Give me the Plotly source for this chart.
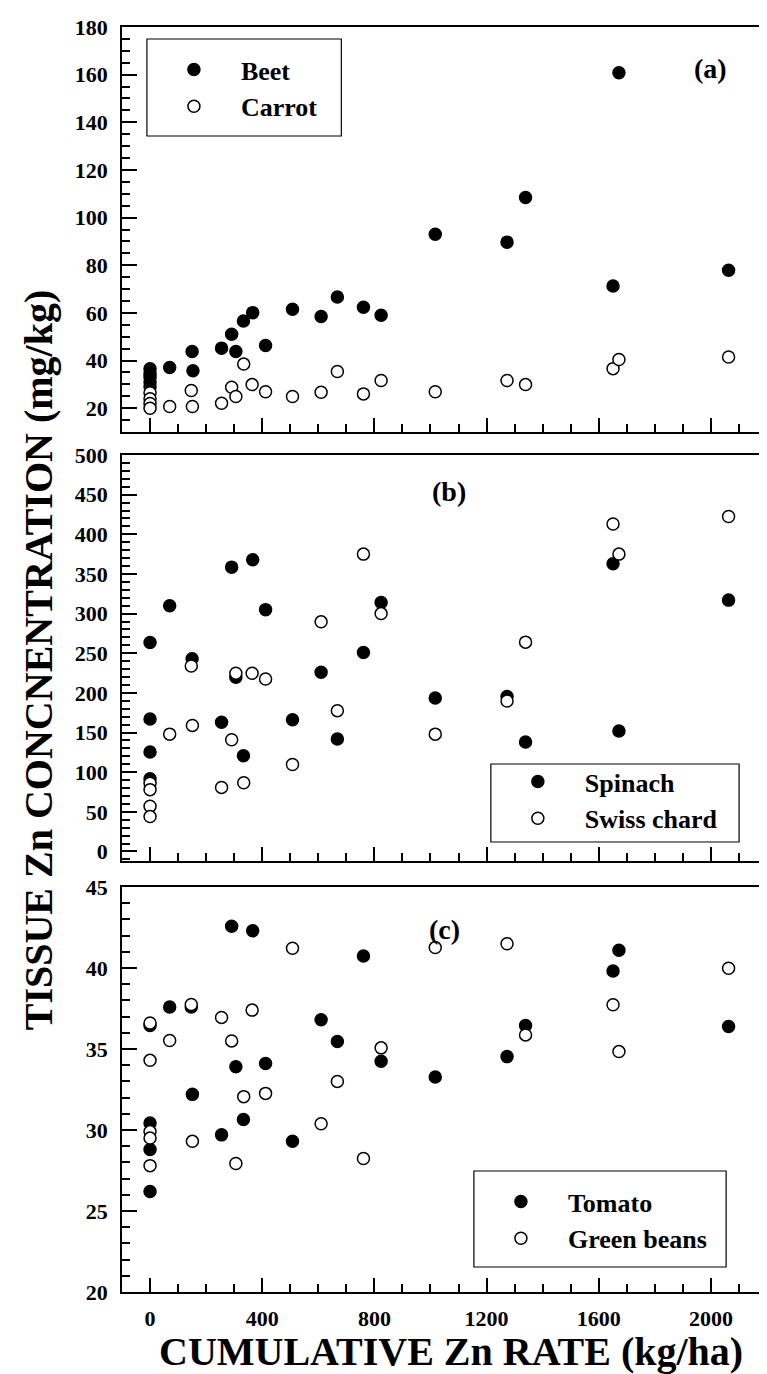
import plotly.graph_objects as go

# ---------------- data ----------------
beet_x = [0, 0, 0, 0, 0, 70, 150, 153, 255, 291, 306, 333, 366, 412, 508, 610, 668, 761, 824, 1017, 1273, 1339, 1651, 1672, 2063]
beet_y = [36.5, 34.5, 33, 31, 29, 37.1, 43.8, 35.7, 45.2, 51.0, 43.8, 56.6, 60.1, 46.3, 61.5, 58.5, 66.7, 62.4, 59.0, 93.0, 89.7, 108.4, 71.3, 160.8, 77.9]

carrot_x = [0, 0, 0, 0, 70, 147, 151, 255, 291, 306, 334, 364, 412, 508, 610, 668, 761, 824, 1017, 1273, 1339, 1651, 1672, 2063]
carrot_y = [26.5, 24, 22, 20, 20.7, 27.4, 20.7, 22.1, 28.8, 24.9, 38.5, 29.9, 26.9, 24.9, 26.7, 35.4, 26.0, 31.6, 26.9, 31.6, 29.9, 36.6, 40.4, 41.5]

spinach_x = [0, 0, 0, 0, 70, 150, 255, 291, 306, 333, 366, 412, 508, 610, 668, 761, 824, 1017, 1273, 1339, 1651, 1672, 2063]
spinach_y = [263.5, 167, 125.4, 91.8, 310, 243, 163, 358.6, 219.7, 120.8, 368, 305, 166, 226, 141.8, 251, 314, 193.6, 195.3, 138, 362.8, 152, 317]

chard_x = [0, 0, 0, 0, 70, 147, 151, 255, 291, 306, 334, 364, 412, 508, 610, 668, 761, 824, 1017, 1273, 1339, 1651, 1672, 2063]
chard_y = [86, 78, 57, 44, 148, 234, 159, 80.8, 141, 224.7, 86.7, 224.7, 217.6, 109.8, 289.6, 177.6, 375, 300, 148, 189.8, 264, 413, 375, 422.5]

tomato_x = [0, 0, 0, 0, 70, 147, 151, 255, 291, 306, 333, 366, 412, 508, 610, 668, 761, 824, 1017, 1273, 1339, 1651, 1672, 2063]
tomato_y = [36.45, 30.43, 28.8, 26.2, 37.59, 37.59, 32.2, 29.7, 42.58, 33.9, 30.65, 42.3, 34.1, 29.3, 36.8, 35.46, 40.74, 34.24, 33.27, 34.53, 36.45, 39.81, 41.1, 36.39]

beans_x = [0, 0, 0, 0, 0, 70, 147, 151, 255, 291, 306, 334, 364, 412, 508, 610, 668, 761, 824, 1017, 1273, 1339, 1651, 1672, 2063]
beans_y = [36.6, 34.3, 29.9, 29.5, 27.8, 35.52, 37.75, 29.3, 36.95, 35.5, 27.93, 32.06, 37.4, 32.26, 41.22, 30.39, 33.0, 28.24, 35.07, 41.26, 41.5, 35.87, 37.73, 34.84, 39.98]

x_ticks = [0, 400, 800, 1200, 1600, 2000]
panel_labels = ["(a)", "(b)", "(c)"]

# ---------------- layout geometry (pixels) ----------------
W, H = 767, 1374
L, R, T, B = 114, 6, 19, 90
PW = W - L - R
PH = H - T - B


def px_x(px):
    return (px - L) / PW


def px_y(py):
    return (H - B - py) / PH


SERIF = "Liberation Serif, Times New Roman, Times, serif"
BLACK = "#000000"
MS = 12

fig = go.Figure()


def add(x, y, name, filled, xa, ya, legend, group):
    fig.add_trace(go.Scatter(
        x=x, y=y, mode="markers", name=name,
        xaxis=xa, yaxis=ya, legend=legend, legendgroup=group,
        marker=dict(size=MS, symbol="circle",
                    color=BLACK if filled else "white",
                    line=dict(color=BLACK, width=1.5)),
    ))


add(beet_x, beet_y, "Beet", True, "x3", "y3", "legend", "g1")
add(carrot_x, carrot_y, "Carrot", False, "x3", "y3", "legend", "g2")
add(spinach_x, spinach_y, "Spinach", True, "x2", "y2", "legend2", "g3")
add(chard_x, chard_y, "Swiss chard", False, "x2", "y2", "legend2", "g4")
add(tomato_x, tomato_y, "Tomato", True, "x", "y", "legend3", "g5")
add(beans_x, beans_y, "Green beans", False, "x", "y", "legend3", "g6")

tickfont = dict(family=SERIF, size=22, color=BLACK, weight="bold")


def xaxis(show_labels, anchor):
    d = dict(range=[-100, 2200], tickmode="array", tickvals=x_ticks,
             ticktext=[str(v) for v in x_ticks],
             showticklabels=show_labels, ticks="inside", ticklen=14, tickwidth=1.5,
             tickcolor=BLACK, showline=True, linecolor=BLACK, linewidth=1.5,
             mirror=True, showgrid=False, zeroline=False, anchor=anchor,
             tickfont=tickfont, ticklabelstandoff=6,
             minor=dict(dtick=100, tick0=0, ticks="inside", ticklen=8,
                        tickwidth=1.5, tickcolor=BLACK, showgrid=False))
    return d


def yaxis(rng, dtick, minor, domain, anchor):
    return dict(range=rng, dtick=dtick, tick0=0, domain=domain, anchor=anchor,
                ticks="inside", ticklen=15, tickwidth=1.5, tickcolor=BLACK,
                showline=True, linecolor=BLACK, linewidth=1.5, mirror=True,
                showgrid=False, zeroline=False, tickfont=tickfont,
                ticklabelstandoff=8,
                minor=dict(dtick=minor, tick0=0, ticks="inside", ticklen=8.7,
                           tickwidth=1.5, tickcolor=BLACK, showgrid=False))


dom_a = [px_y(424), 1.0]
dom_b = [px_y(853), px_y(447)]
dom_c = [0.0, px_y(879)]

legfont = dict(family=SERIF, size=26, color=BLACK, weight="bold")


def legend(px, py):
    return dict(x=px_x(px), y=px_y(py), xanchor="left", yanchor="top",
                xref="paper", yref="paper", bgcolor="rgba(0,0,0,0)",
                borderwidth=0, font=legfont, itemwidth=84,
                tracegroupgap=0, traceorder="grouped")


fig.update_layout(
    width=W, height=H,
    margin=dict(l=L, r=R, t=T, b=B),
    paper_bgcolor="white", plot_bgcolor="white",
    xaxis=xaxis(True, "y"),
    xaxis2=xaxis(False, "y2") | dict(matches="x"),
    xaxis3=xaxis(False, "y3") | dict(matches="x"),
    yaxis=yaxis([20, 45], 5, 1, dom_c, "x"),
    yaxis2=yaxis([-12, 500], 50, 10, dom_b, "x2"),
    yaxis3=yaxis([10, 180], 20, 5, dom_a, "x3"),
    legend=legend(139, 38),
    legend2=legend(484, 750),
    legend3=legend(467, 1170),
    showlegend=True,
)

# legend frames
for (x0, y0, x1, y1) in [(139, 31, 334, 128), (484, 756, 733, 834), (467, 1163, 720, 1259)]:
    fig.add_shape(type="rect", xref="paper", yref="paper",
                  x0=px_x(x0), x1=px_x(x1), y0=px_y(y1), y1=px_y(y0),
                  line=dict(color=BLACK, width=1.2), fillcolor="rgba(0,0,0,0)")

# panel labels
for lab, (cx, cy) in zip(panel_labels, [(704, 60), (442, 483), (437, 921)]):
    fig.add_annotation(text=lab, x=px_x(cx), y=px_y(cy), xref="paper", yref="paper",
                       showarrow=False, xanchor="center", yanchor="middle",
                       font=dict(family=SERIF, size=28, color=BLACK, weight="bold"))

# axis titles
fig.add_annotation(text="TISSUE Zn CONCNENTRATION (mg/kg)", x=px_x(30), y=px_y(652),
                   xref="paper", yref="paper", showarrow=False, textangle=-90,
                   xanchor="center", yanchor="middle",
                   font=dict(family=SERIF, size=40, color=BLACK, weight="bold"))
fig.add_annotation(text="CUMULATIVE Zn RATE (kg/ha)", x=px_x(444), y=px_y(1368),
                   xref="paper", yref="paper", showarrow=False,
                   xanchor="center", yanchor="bottom",
                   font=dict(family=SERIF, size=40, color=BLACK, weight="bold"))

fig.write_html("out.html")
